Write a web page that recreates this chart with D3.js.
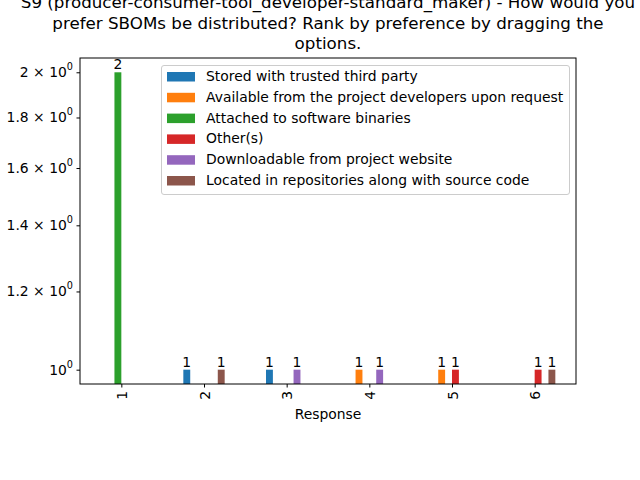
<!DOCTYPE html>
<meta charset="utf-8">
<style>
body { margin: 0; background: #fff; }
text { font-family: "DejaVu Sans", sans-serif; fill: #000; }
</style>
<body>
<script src="https://d3js.org/d3.v7.min.js"></script>
<script>
// ranks on the x axis
var categories = ["1", "2", "3", "4", "5", "6"];

var seriesNames = [
  "Stored with trusted third party",
  "Available from the project developers upon request",
  "Attached to software binaries",
  "Other(s)",
  "Downloadable from project website",
  "Located in repositories along with source code"
];

// counts per rank, one array per option
var storedThirdParty = [0, 1, 1, 0, 0, 0];
var availableOnRequest = [0, 0, 0, 1, 1, 0];
var attachedBinaries = [2, 0, 0, 0, 0, 0];
var others = [0, 0, 0, 0, 1, 1];
var downloadableWebsite = [0, 0, 1, 1, 0, 0];
var locatedRepos = [0, 1, 0, 0, 0, 1];

var seriesValues = [storedThirdParty, availableOnRequest, attachedBinaries,
                    others, downloadableWebsite, locatedRepos];

var yTickValues = [1, 1.2, 1.4, 1.6, 1.8, 2];

var colors = ["#1f77b4", "#ff7f0e", "#2ca02c", "#d62728", "#9467bd", "#8c564b"];

var width = 640, height = 480;
var margin = {left: 80, right: 64, top: 58, bottom: 96};
var fs = 13.9;

var svg = d3.select("body").append("svg")
    .attr("width", width)
    .attr("height", height);

var x = d3.scaleLinear()
    .domain([-0.5, categories.length - 0.5])
    .range([margin.left, width - margin.right]);

var y = d3.scaleLog()
    .domain([Math.pow(10, -0.0145), Math.pow(10, 0.3155)])
    .range([height - margin.bottom, margin.top]);

var K = seriesNames.length;
var w = 0.5 / K;

svg.append("defs").append("clipPath").attr("id", "clip")
  .append("rect")
    .attr("x", margin.left).attr("y", margin.top)
    .attr("width", width - margin.left - margin.right)
    .attr("height", height - margin.top - margin.bottom);

var plot = svg.append("g").attr("clip-path", "url(#clip)");

seriesValues.forEach(function(vals, i) {
  vals.forEach(function(v, j) {
    if (v <= 0) return;
    var cx = x(j + (i - (K - 1) / 2) * w);
    var bw = x(w) - x(0);
    plot.append("rect")
        .attr("x", cx - bw / 2)
        .attr("y", y(v))
        .attr("width", bw)
        .attr("height", height - margin.bottom + 10 - y(v))
        .attr("fill", colors[i]);
    svg.append("text")
        .attr("x", cx)
        .attr("y", y(v) - 3)
        .attr("text-anchor", "middle")
        .style("font-size", fs + "px")
        .text(v);
  });
});

// axes frame
svg.append("rect")
    .attr("x", margin.left).attr("y", margin.top)
    .attr("width", width - margin.left - margin.right)
    .attr("height", height - margin.top - margin.bottom)
    .attr("fill", "none").attr("stroke", "#000").attr("stroke-width", 1);

// x axis
var xAxis = d3.axisBottom(x)
    .tickValues(d3.range(categories.length))
    .tickFormat(function(d) { return categories[d]; })
    .tickSizeInner(3.5).tickSizeOuter(0).tickPadding(3.5);

var gx = svg.append("g")
    .attr("transform", "translate(0," + (height - margin.bottom) + ")")
    .call(xAxis);
gx.select(".domain").remove();
gx.selectAll("line").attr("stroke", "#000");
gx.selectAll("text")
    .style("font-size", fs + "px")
    .style("font-family", "DejaVu Sans")
    .attr("y", 0).attr("dy", null)
    .attr("transform", "translate(0,7) rotate(-90)")
    .attr("text-anchor", "end")
    .attr("dominant-baseline", "central");

svg.append("text")
    .attr("x", (margin.left + width - margin.right) / 2)
    .attr("y", 414)
    .attr("text-anchor", "middle")
    .attr("dominant-baseline", "central")
    .style("font-size", fs + "px")
    .text("Response");

// y axis (log with sci-notation labels)
var yAxis = d3.axisLeft(y)
    .tickValues(yTickValues)
    .tickFormat("")
    .tickSizeInner(3.5).tickSizeOuter(0);

var gy = svg.append("g")
    .attr("transform", "translate(" + margin.left + ",0)")
    .call(yAxis);
gy.select(".domain").remove();
gy.selectAll("line").attr("stroke", "#000");

yTickValues.forEach(function(v) {
  var t = svg.append("text")
      .attr("x", margin.left - 7)
      .attr("y", y(v))
      .attr("text-anchor", "end")
      .attr("dominant-baseline", "central")
      .style("font-size", fs + "px");
  var mant = v === 1 ? "" : d3.format("")(v) + " \u00d7 ";
  t.append("tspan").text(mant + "10");
  t.append("tspan").attr("dy", -6).style("font-size", "9.7px").text("0");
});

// legend
var lg = svg.append("g");
lg.append("rect")
    .attr("x", 161.5).attr("y", 65.5)
    .attr("width", 408).attr("height", 129)
    .attr("rx", 2.5)
    .attr("fill", "#fff").attr("fill-opacity", 0.8)
    .attr("stroke", "#cccccc");

seriesNames.forEach(function(name, i) {
  var cy = 76 + i * 20.8;
  lg.append("rect")
      .attr("x", 167).attr("y", cy - 4)
      .attr("width", 28).attr("height", 9.5)
      .attr("fill", colors[i]);
  lg.append("text")
      .attr("x", 206).attr("y", cy)
      .attr("dominant-baseline", "central")
      .style("font-size", fs + "px")
      .text(name);
});

// title
var titleLines = [
  "S9 (producer-consumer-tool_developer-standard_maker) - How would you",
  "prefer SBOMs be distributed? Rank by preference by dragging the",
  "options."
];
titleLines.forEach(function(line, i) {
  svg.append("text")
      .attr("x", (margin.left + width - margin.right) / 2)
      .attr("y", 2 + i * 20.5)
      .attr("text-anchor", "middle")
      .attr("dominant-baseline", "central")
      .style("font-size", "16.7px")
      .text(line);
});
</script>
</body>
